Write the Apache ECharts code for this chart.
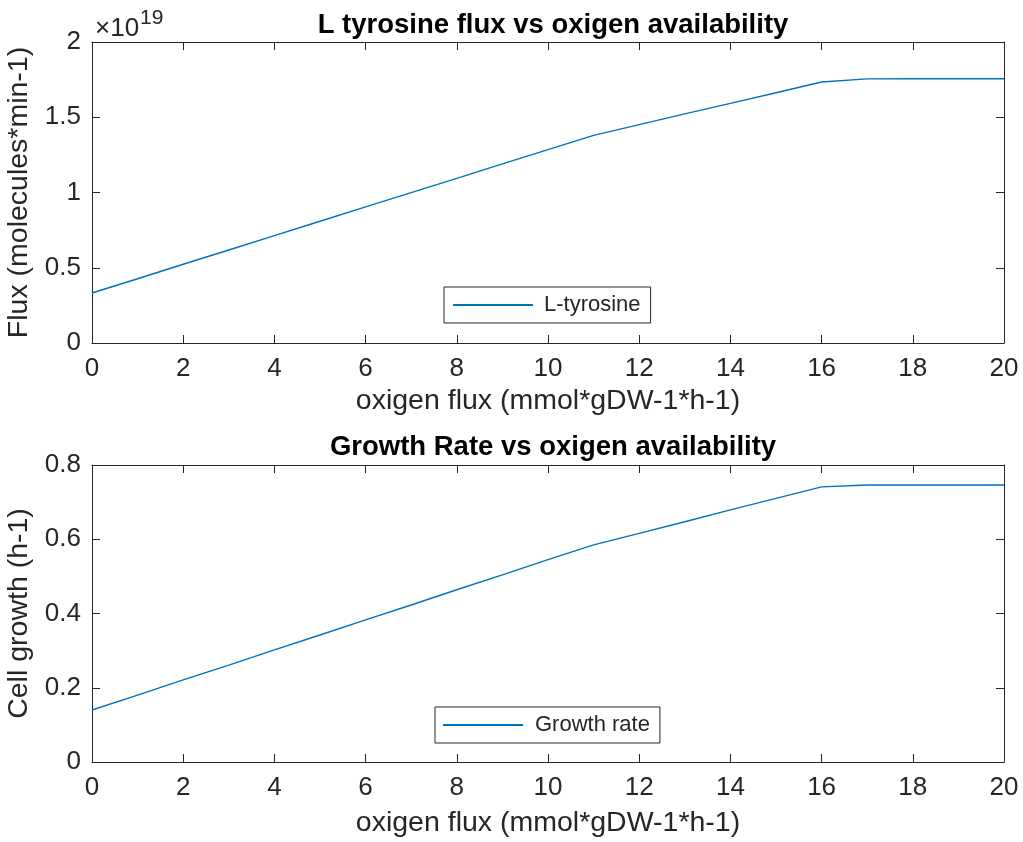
<!DOCTYPE html>
<html>
<head>
<meta charset="utf-8">
<script src="https://cdn.jsdelivr.net/npm/echarts@6/dist/echarts.min.js"></script>
<style>html,body{margin:0;padding:0;background:#fff;}#c{width:1023px;height:842px;}</style>
</head>
<body>
<div id="c"></div>
<script>
// oxygen flux (x) values
const oxygenFlux = [0,1,2,3,4,5,6,7,8,9,10,11,12,13,14,15,16,17,18,19,20];
// L-tyrosine flux, in units of 1e19 molecules/min
const tyrosineFlux = [0.332,0.427,0.523,0.618,0.713,0.809,0.904,0.999,1.094,1.190,1.285,1.380,1.451,1.522,1.592,1.663,1.734,1.755,1.756,1.756,1.756];
// growth rate (h-1)
const growthRate = [0.140,0.180,0.221,0.261,0.302,0.342,0.383,0.423,0.464,0.504,0.545,0.585,0.616,0.647,0.679,0.710,0.741,0.746,0.746,0.746,0.746];
const xTicks = [0,2,4,6,8,10,12,14,16,18,20];
const yTicksTop = [0,0.5,1,1.5,2];
const yTicksBottom = [0,0.2,0.4,0.6,0.8];

const FONT = 'Liberation Sans, Arial, Helvetica, sans-serif';
const TXT = '#262626';
const AX = '#262626';
const LINE = '#0072BD';
const TICK_FS = 26, NAME_FS = 28.5, TITLE_FS = 27.5, LEG_FS = 22;

const chart = echarts.init(document.getElementById('c'), null, {renderer: 'canvas'});

function xAxisMain(grid, name, gap){
  return {type:'value', gridIndex:grid, min:xTicks[0], max:xTicks[xTicks.length-1], interval:xTicks[1]-xTicks[0], position:'bottom',
    name:name, nameLocation:'middle', nameGap:gap,
    nameTextStyle:{color:TXT, fontSize:NAME_FS, fontFamily:FONT},
    axisLine:{onZero:false, lineStyle:{color:AX, width:1}},
    axisTick:{inside:true, length:8, lineStyle:{color:AX}},
    axisLabel:{color:TXT, fontSize:TICK_FS, fontFamily:FONT, margin:13, hideOverlap:false},
    splitLine:{show:false}};
}
function xAxisTop(grid){
  return {type:'value', gridIndex:grid, min:xTicks[0], max:xTicks[xTicks.length-1], interval:xTicks[1]-xTicks[0], position:'top',
    axisLine:{onZero:false, lineStyle:{color:AX, width:1}},
    axisTick:{inside:true, length:8, lineStyle:{color:AX}},
    axisLabel:{show:false}, splitLine:{show:false}};
}
function yAxisMain(grid, ticks, name, fmt){
  return {type:'value', gridIndex:grid, min:ticks[0], max:ticks[ticks.length-1], interval:ticks[1]-ticks[0], position:'left',
    name:name, nameLocation:'middle', nameGap:46, nameRotate:90,
    nameTextStyle:{color:TXT, fontSize:NAME_FS, fontFamily:FONT},
    axisLine:{show:true, onZero:false, lineStyle:{color:AX, width:1}},
    axisTick:{show:true, inside:true, length:8, lineStyle:{color:AX}},
    axisLabel:{color:TXT, fontSize:TICK_FS, fontFamily:FONT, margin:11, formatter:fmt},
    splitLine:{show:false}};
}
function yAxisRight(grid, ticks){
  return {type:'value', gridIndex:grid, min:ticks[0], max:ticks[ticks.length-1], interval:ticks[1]-ticks[0], position:'right',
    axisLine:{show:true, onZero:false, lineStyle:{color:AX, width:1}},
    axisTick:{show:true, inside:true, length:8, lineStyle:{color:AX}},
    axisLabel:{show:false}, splitLine:{show:false}};
}

const option = {
  backgroundColor:'#fff',
  animation:false,
  textStyle:{fontFamily:FONT},
  title:[
    {text:'L tyrosine flux vs oxigen availability', left:548, textAlign:'center', top:6,
     textStyle:{color:'#000', fontSize:TITLE_FS, fontWeight:'bold', fontFamily:FONT}},
    {text:'Growth Rate vs oxigen availability', left:548, textAlign:'center', top:428,
     textStyle:{color:'#000', fontSize:TITLE_FS, fontWeight:'bold', fontFamily:FONT}},
    {text:'×10{sup|19}', left:90, top:3,
     textStyle:{color:TXT, fontSize:26, fontWeight:'normal', fontFamily:FONT,
       rich:{sup:{fontSize:21, verticalAlign:'top', padding:[0,0,20,1], color:TXT, fontFamily:FONT}}}}
  ],
  grid:[
    {left:92, right:19, top:42, height:301, containLabel:false, outerBoundsMode:'none'},
    {left:92, right:19, top:465, height:297, containLabel:false, outerBoundsMode:'none'}
  ],
  xAxis:[xAxisMain(0,'oxigen flux (mmol*gDW-1*h-1)',44), xAxisTop(0), xAxisMain(1,'oxigen flux (mmol*gDW-1*h-1)',47), xAxisTop(1)],
  yAxis:[
    yAxisMain(0,yTicksTop,'Flux (molecules*min-1)', v=>String(v)),
    yAxisRight(0,yTicksTop),
    yAxisMain(1,yTicksBottom,'Cell growth (h-1)', v=>String(Math.round(v*10)/10)),
    yAxisRight(1,yTicksBottom)
  ],
  legend:[
    {data:['L-tyrosine'], left:444, top:287, orient:'horizontal',
     borderColor:'#262626', borderWidth:1, padding:[7,10,7,9], backgroundColor:'#fff',
     itemWidth:80, itemHeight:2, icon:'rect', itemGap:4,
     textStyle:{color:TXT, fontSize:LEG_FS, fontFamily:FONT, padding:[0,0,0,6]}},
    {data:['Growth rate'], left:435, top:707, orient:'horizontal',
     borderColor:'#262626', borderWidth:1, padding:[7,10,7,8], backgroundColor:'#fff',
     itemWidth:80, itemHeight:2, icon:'rect', itemGap:4,
     textStyle:{color:TXT, fontSize:LEG_FS, fontFamily:FONT, padding:[0,0,0,7]}}
  ],
  series:[
    {name:'L-tyrosine', type:'line', xAxisIndex:0, yAxisIndex:0,
     data:oxygenFlux.map((x,i)=>[x, tyrosineFlux[i]]), symbol:'none',
     lineStyle:{color:LINE, width:1.4}, itemStyle:{color:LINE}},
    {name:'Growth rate', type:'line', xAxisIndex:2, yAxisIndex:2,
     data:oxygenFlux.map((x,i)=>[x, growthRate[i]]), symbol:'none',
     lineStyle:{color:LINE, width:1.4}, itemStyle:{color:LINE}}
  ]
};
chart.setOption(option);
</script>
</body>
</html>
